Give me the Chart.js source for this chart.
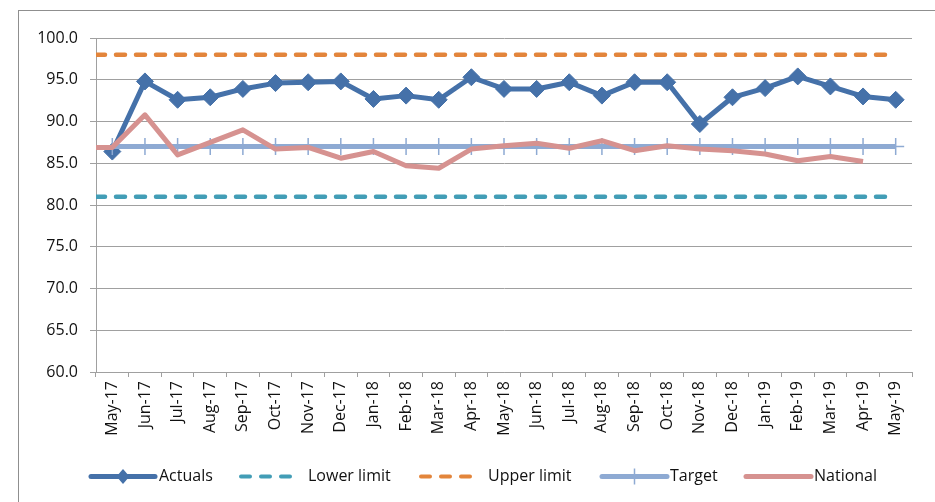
<!DOCTYPE html>
<html>
<head>
<meta charset="utf-8">
<script src="https://cdn.jsdelivr.net/npm/chart.js@4.4.0/dist/chart.umd.min.js"></script>
<style>
  html, body { margin: 0; padding: 0; background: #fff; }
  #wrap { position: relative; width: 935px; height: 502px; overflow: hidden; }
  #frame { position: absolute; left: 18px; top: 10px; width: 1000px; height: 600px; border: 1.5px solid #8f8f8f; }
  #c { position: absolute; left: 0; top: 0; }
</style>
</head>
<body>
<div id="wrap">
  <div id="frame"></div>
  <canvas id="c" width="935" height="502"></canvas>
</div>
<script>
// Monthly categories (x axis tick labels)
const months = ['May-17','Jun-17','Jul-17','Aug-17','Sep-17','Oct-17','Nov-17','Dec-17',
  'Jan-18','Feb-18','Mar-18','Apr-18','May-18','Jun-18','Jul-18','Aug-18','Sep-18','Oct-18',
  'Nov-18','Dec-18','Jan-19','Feb-19','Mar-19','Apr-19','May-19'];

// Monthly performance
const actuals = [86.4, 94.8, 92.6, 92.9, 93.9, 94.6, 94.7, 94.8, 92.7, 93.1, 92.6, 95.3, 93.9,
  93.9, 94.7, 93.1, 94.7, 94.7, 89.7, 92.9, 94.0, 95.4, 94.2, 93.0, 92.6];

// Control limits
const lowerLimit = [81, 81, 81, 81, 81, 81, 81, 81, 81, 81, 81, 81, 81, 81, 81, 81, 81, 81, 81, 81, 81, 81, 81, 81, 81];
const upperLimit = [98, 98, 98, 98, 98, 98, 98, 98, 98, 98, 98, 98, 98, 98, 98, 98, 98, 98, 98, 98, 98, 98, 98, 98, 98];

// Target
const target = [87, 87, 87, 87, 87, 87, 87, 87, 87, 87, 87, 87, 87, 87, 87, 87, 87, 87, 87, 87, 87, 87, 87, 87, 87];

// National average (no figure yet for the last month)
const national = [86.9, 90.8, 86.0, 87.5, 89.0, 86.7, 86.9, 85.6, 86.4, 84.7, 84.4, 86.7, 87.1,
  87.4, 86.8, 87.7, 86.5, 87.1, 86.7, 86.5, 86.1, 85.3, 85.8, 85.2];

// Value axis
const yMin = 60, yMax = 100, yStep = 5;

const COLORS = {
  actuals: '#4571A9',
  lower: '#429DB6',
  upper: '#E3853B',
  target: '#8EAAD3',
  national: '#D69290',
  grid: '#a0a0a0',
  text: '#111111'
};
const FONT = "'Open Sans', 'DejaVu Sans', sans-serif";

// Series on the hidden linear axis: index i sits on month i; -0.5 is the plot's left edge.
function toPoints(values, fromEdge) {
  const pts = values.map((v, i) => ({ x: i, y: v }));
  if (fromEdge) pts.unshift({ x: -0.5, y: values[0] });
  return pts;
}

// Legend drawn under the plot, with a line sample and marker for each series
const legendPlugin = {
  id: 'lineLegend',
  afterDraw(chart) {
    const ctx = chart.ctx;
    const y = 476.5;
    const items = [
      { label: 'Actuals', color: COLORS.actuals, x0: 91, x1: 155, tx: 159, dash: null, marker: 'diamond', w: 5 },
      { label: 'Lower limit', color: COLORS.lower, x0: 241, x1: 292, tx: 308, dash: [9, 11], marker: null, w: 4 },
      { label: 'Upper limit', color: COLORS.upper, x0: 421, x1: 472, tx: 488, dash: [9, 11], marker: null, w: 4 },
      { label: 'Target', color: COLORS.target, x0: 602, x1: 667, tx: 670, dash: null, marker: 'tick', w: 5 },
      { label: 'National', color: COLORS.national, x0: 746, x1: 811, tx: 814, dash: null, marker: null, w: 5 }
    ];
    ctx.save();
    items.forEach(it => {
      ctx.beginPath();
      ctx.strokeStyle = it.color;
      ctx.lineWidth = it.w;
      ctx.setLineDash(it.dash || []);
      ctx.lineCap = 'round';
      ctx.moveTo(it.x0, y);
      ctx.lineTo(it.x1, y);
      ctx.stroke();
      ctx.setLineDash([]);
      const cx = (it.x0 + it.x1) / 2;
      if (it.marker === 'diamond') {
        ctx.beginPath();
        ctx.fillStyle = it.color;
        ctx.moveTo(cx, y - 7.5); ctx.lineTo(cx + 6.5, y); ctx.lineTo(cx, y + 7.5); ctx.lineTo(cx - 6.5, y);
        ctx.closePath();
        ctx.fill();
      } else if (it.marker === 'tick') {
        ctx.beginPath();
        ctx.lineWidth = 1.5;
        ctx.lineCap = 'butt';
        ctx.moveTo(cx, y - 8); ctx.lineTo(cx, y + 8);
        ctx.stroke();
      }
      ctx.fillStyle = COLORS.text;
      ctx.font = '16px ' + FONT;
      ctx.textBaseline = 'middle';
      ctx.textAlign = 'left';
      ctx.fillText(it.label, it.tx, y);
    });
    ctx.restore();
  }
};

new Chart(document.getElementById('c'), {
  type: 'line',
  data: {
    labels: months,
    datasets: [
      {
        label: 'Actuals',
        data: actuals,
        xAxisID: 'x',
        borderColor: COLORS.actuals,
        backgroundColor: COLORS.actuals,
        borderWidth: 5,
        pointStyle: 'rectRot',
        pointRadius: 8.5,
        pointBorderWidth: 1,
        pointBackgroundColor: COLORS.actuals,
        pointBorderColor: COLORS.actuals,
        borderJoinStyle: 'round',
        tension: 0,
        order: 5
      },
      {
        label: 'Lower limit',
        data: toPoints(lowerLimit, true),
        xAxisID: 'xl',
        borderColor: COLORS.lower,
        borderWidth: 4.5,
        borderDash: [9, 11],
        borderCapStyle: 'round',
        pointRadius: 0,
        order: 4
      },
      {
        label: 'Upper limit',
        data: toPoints(upperLimit, true),
        xAxisID: 'xl',
        borderColor: COLORS.upper,
        borderWidth: 4.5,
        borderDash: [9, 11],
        borderCapStyle: 'round',
        pointRadius: 0,
        order: 3
      },
      {
        label: 'Target',
        data: toPoints(target, false),
        xAxisID: 'xl',
        borderColor: COLORS.target,
        borderWidth: 5,
        pointStyle: 'cross',
        pointRadius: 8.5,
        pointBorderWidth: 1.5,
        pointBorderColor: COLORS.target,
        order: 2
      },
      {
        label: 'National',
        data: toPoints(national, true),
        xAxisID: 'xl',
        borderColor: COLORS.national,
        borderWidth: 5,
        borderJoinStyle: 'round',
        pointRadius: 0,
        order: 1
      }
    ]
  },
  options: {
    responsive: false,
    animation: false,
    devicePixelRatio: 1,
    layout: { padding: { left: 0, right: 23, top: 38, bottom: 0 } },
    plugins: {
      legend: { display: false },
      tooltip: { enabled: false }
    },
    scales: {
      x: {
        type: 'category',
        offset: true,
        grid: {
          offset: true,
          drawOnChartArea: false,
          drawTicks: true,
          tickLength: 5,
          color: COLORS.grid
        },
        border: { display: true, color: COLORS.grid, width: 1 },
        ticks: {
          autoSkip: false,
          minRotation: 90,
          maxRotation: 90,
          padding: 4,
          color: COLORS.text,
          font: { family: FONT, size: 16 }
        },
        afterFit(scale) { scale.height = 130; }
      },
      xl: {
        type: 'linear',
        display: false,
        min: -0.5,
        max: months.length - 0.5
      },
      y: {
        min: yMin,
        max: yMax,
        grid: { color: COLORS.grid, lineWidth: 1, tickLength: 6 },
        border: { display: true, color: COLORS.grid, width: 1 },
        ticks: {
          stepSize: yStep,
          padding: 12,
          color: COLORS.text,
          font: { family: FONT, size: 16 },
          callback: v => Number(v).toFixed(1)
        },
        afterFit(scale) { scale.width = 96; }
      }
    }
  },
  plugins: [legendPlugin]
});
</script>
</body>
</html>
